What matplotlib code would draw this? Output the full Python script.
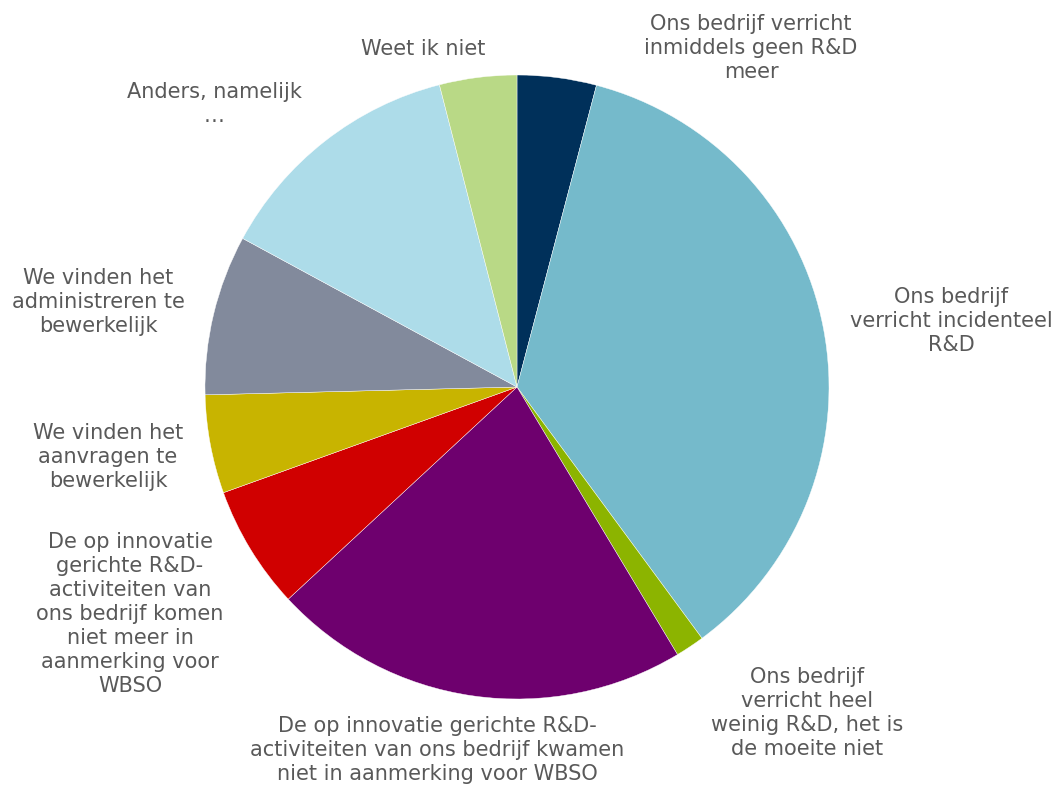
import matplotlib
matplotlib.use("Agg")
import matplotlib.pyplot as plt

categories = [
    "Ons bedrijf verricht\ninmiddels geen R&D\nmeer",
    "Ons bedrijf\nverricht incidenteel\nR&D",
    "Ons bedrijf\nverricht heel\nweinig R&D, het is\nde moeite niet",
    "De op innovatie gerichte R&D-\nactiviteiten van ons bedrijf kwamen\nniet in aanmerking voor WBSO",
    "De op innovatie\ngerichte R&D-\nactiviteiten van\nons bedrijf komen\nniet meer in\naanmerking voor\nWBSO",
    "We vinden het\naanvragen te\nbewerkelijk",
    "We vinden het\nadministreren te\nbewerkelijk",
    "Anders, namelijk\n…",
    "Weet ik niet",
]
values = [4.1, 35.8, 1.5, 21.7, 6.4, 5.1, 8.3, 13.1, 4.0]
colors = ["#00305A", "#75BACB", "#8CB400", "#6E006E", "#D00000",
          "#C8B400", "#828A9C", "#ADDCE9", "#B9D986"]

# label centres in figure pixels (from top-left)
label_pos = [(751, 48), (951, 321), (807, 713), (437, 750), (130, 614),
             (108, 457), (98, 302), (214, 104), (423, 49)]

W, H = 1061, 789
fig = plt.figure(figsize=(W / 100, H / 100), dpi=100)
cx, cy, r = 517, 387, 312
ax = fig.add_axes([(cx - r) / W, (H - cy - r) / H, 2 * r / W, 2 * r / H])
ax.pie(values, colors=colors, startangle=90, counterclock=False,
       radius=1.0, wedgeprops=dict(linewidth=0.3, edgecolor="white"))
ax.set_xlim(-1, 1)
ax.set_ylim(-1, 1)
ax.set_aspect("equal")
ax.axis("off")

for lab, (x, y) in zip(categories, label_pos):
    fig.text(x / W, 1 - y / H, lab, ha="center", va="center",
             fontsize=15, color="#595959", linespacing=1.25,
             family="DejaVu Sans")

fig.savefig("out.png", dpi=100)
